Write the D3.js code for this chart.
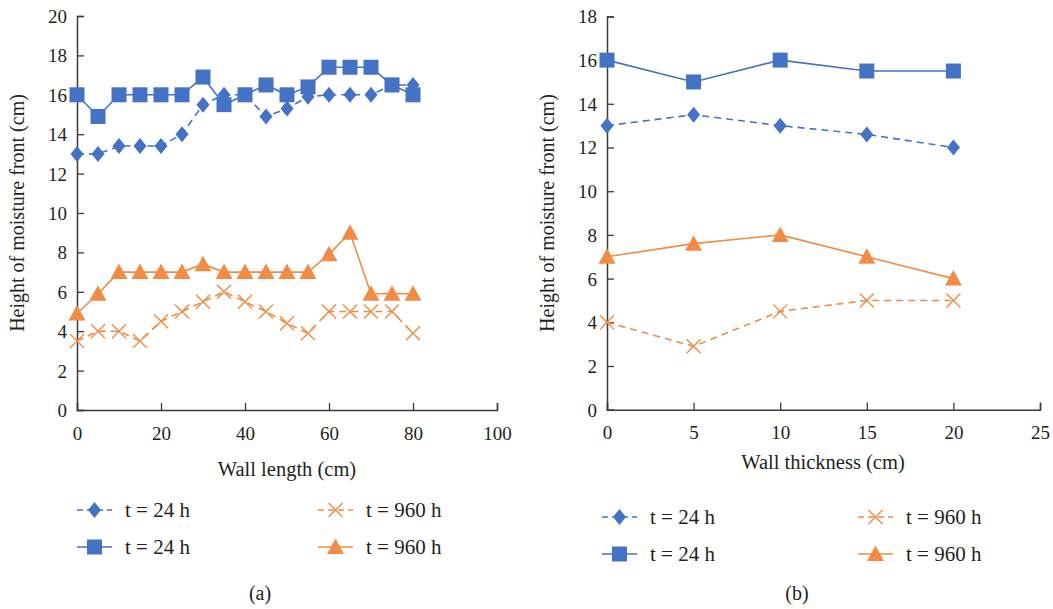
<!DOCTYPE html>
<html><head><meta charset="utf-8">
<script src="https://cdn.jsdelivr.net/npm/d3@7"></script>
<style>body{margin:0;background:#fff}svg{display:block}text{font-family:"Liberation Serif","DejaVu Serif",serif;fill:#231f20}</style>
</head><body>
<svg id="c" width="1053" height="609"></svg>
<script>
// ---- data: panel (a) wall length ----
const lengthX = [0,5,10,15,20,25,30,35,40,45,50,55,60,65,70,75,80];
const lenDiamond24 = [13,13,13.4,13.4,13.4,14,15.5,16,16,14.9,15.3,15.9,16,16,16,16.5,16.5];
const lenSquare24  = [16,14.9,16,16,16,16,16.9,15.5,16,16.5,16,16.4,17.4,17.4,17.4,16.5,16];
const lenCross960  = [3.5,4,4,3.5,4.5,5,5.5,6,5.5,5,4.4,3.9,5,5,5,5,3.9];
const lenTri960    = [4.9,5.9,7,7,7,7,7.4,7,7,7,7,7,7.9,9,5.9,5.9,5.9];
const lenXTicks = [0,20,40,60,80,100];
const lenYTicks = [0,2,4,6,8,10,12,14,16,18,20];
// ---- data: panel (b) wall thickness ----
const thickX = [0,5,10,15,20];
const thkDiamond24 = [13,13.5,13,12.6,12];
const thkSquare24  = [16,15,16,15.5,15.5];
const thkCross960  = [4,2.9,4.5,5,5];
const thkTri960    = [7,7.6,8,7,6];
const thkXTicks = [0,5,10,15,20,25];
const thkYTicks = [0,2,4,6,8,10,12,14,16,18];
const legendLabels = ["t = 24 h","t = 960 h","t = 24 h","t = 960 h"];

const BLUE="#4472C4", ORANGE="#F08C45", AXIS="#3a3a3a";
const svg = d3.select("#c");

function marker(g, type, color, x, y){
  if(type==="diamond"){
    g.append("path").attr("d",`M${x},${y-8}L${x+6.5},${y}L${x},${y+8}L${x-6.5},${y}Z`).attr("fill",color);
  } else if(type==="square"){
    g.append("rect").attr("x",x-7.5).attr("y",y-7.5).attr("width",15).attr("height",15).attr("fill",color);
  } else if(type==="tri"){
    g.append("path").attr("d",`M${x},${y-8.5}L${x+8.5},${y+7}L${x-8.5},${y+7}Z`).attr("fill",color);
  } else if(type==="cross"){
    g.append("path").attr("d",`M${x-7},${y-7}L${x+7},${y+7}M${x+7},${y-7}L${x-7},${y+7}`).attr("stroke",color).attr("stroke-width",1.4).attr("fill","none");
  }
}

function panel(cfg){
  const x = d3.scaleLinear().domain([0,cfg.xmax]).range([cfg.x0,cfg.x1]);
  const y = d3.scaleLinear().domain([0,cfg.ymax]).range([cfg.y0,cfg.y1]);
  const g = svg.append("g");
  const xa = g.append("g").attr("transform",`translate(0,${cfg.y0})`)
    .call(d3.axisBottom(x).tickValues(cfg.xticks).tickSize(-7).tickPadding(16).tickFormat(d3.format("d")));
  const ya = g.append("g").attr("transform",`translate(${cfg.x0},0)`)
    .call(d3.axisLeft(y).tickValues(cfg.yticks).tickSize(-7).tickPadding(10).tickFormat(d3.format("d")));
  [xa,ya].forEach(a=>{
    a.select(".domain").attr("stroke",AXIS).attr("stroke-width",1.5);
    a.selectAll(".tick line").attr("stroke",AXIS).attr("stroke-width",1.3);
    a.selectAll(".tick text").style("font-size","19px").attr("fill","#231f20").style("font-family",'"Liberation Serif",serif');
  });
  ya.selectAll(".tick text").attr("dy","0.34em");
  xa.selectAll(".tick text").attr("dy","0.72em");
  g.append("text").attr("x",cfg.xlabX).attr("y",cfg.xlabY).attr("text-anchor","middle").style("font-size","20.5px").text(cfg.xlabel);
  g.append("text").attr("transform",`translate(${cfg.ylabX},${(cfg.y0+cfg.y1)/2}) rotate(-90)`).attr("text-anchor","middle").style("font-size","20px").text("Height of moisture front (cm)");
  g.append("text").attr("x",cfg.capX).attr("y",600).attr("text-anchor","middle").style("font-size","20px").text(cfg.cap);

  const series = [
    {vals:cfg.d, type:"diamond", color:BLUE, dash:"7,5"},
    {vals:cfg.c, type:"cross", color:ORANGE, dash:"7,5"},
    {vals:cfg.s, type:"square", color:BLUE, dash:null},
    {vals:cfg.t, type:"tri", color:ORANGE, dash:null}
  ];
  const line = d3.line().x((d,i)=>x(cfg.xs[i])).y(d=>y(d));
  series.forEach(s=>{
    g.append("path").datum(s.vals).attr("d",line).attr("fill","none").attr("stroke",s.color)
      .attr("stroke-width",1.6).attr("stroke-dasharray",s.dash);
  });
  series.forEach(s=>{
    s.vals.forEach((v,i)=>marker(g,s.type,s.color,x(cfg.xs[i]),y(v)));
  });
  const L = cfg.legend;
  const pos = [[0,0],[1,0],[0,1],[1,1]];
  series.forEach((s,i)=>{
    const lx = L.cols[pos[i][0]], ly = L.rows[pos[i][1]];
    g.append("line").attr("x1",lx).attr("x2",lx+35).attr("y1",ly).attr("y2",ly)
      .attr("stroke",s.color).attr("stroke-width",1.6).attr("stroke-dasharray",s.dash?"6,4":null);
    marker(g,s.type,s.color,lx+17.5,ly);
    g.append("text").attr("x",lx+48).attr("y",ly).attr("dy","0.34em").style("font-size","21px").text(legendLabels[i]);
  });
}

panel({x0:77,x1:497,y0:410,y1:16,xmax:100,ymax:20,xticks:lenXTicks,yticks:lenYTicks,
  xs:lengthX,d:lenDiamond24,s:lenSquare24,c:lenCross960,t:lenTri960,
  xlabel:"Wall length (cm)",xlabX:287,xlabY:476,ylabX:24,cap:"(a)",capX:260,
  legend:{cols:[77,318],rows:[510,547]}});
panel({x0:607,x1:1040,y0:409.7,y1:16.4,xmax:25,ymax:18,xticks:thkXTicks,yticks:thkYTicks,
  xs:thickX,d:thkDiamond24,s:thkSquare24,c:thkCross960,t:thkTri960,
  xlabel:"Wall thickness (cm)",xlabX:823,xlabY:469,ylabX:554,cap:"(b)",capX:797,
  legend:{cols:[602,858],rows:[517,554]}});
</script>
</body></html>
